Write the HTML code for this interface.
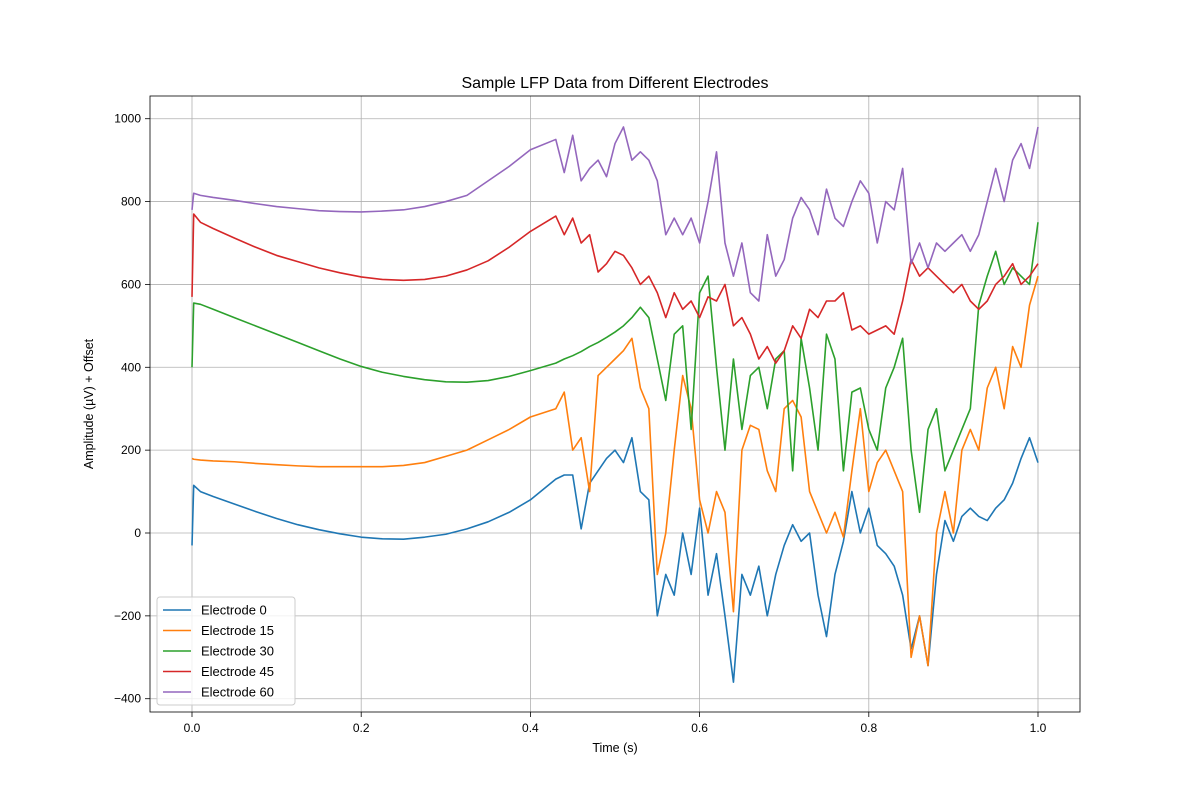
<!DOCTYPE html>
<html><head><meta charset="utf-8"><style>
body{margin:0;background:#fff;}
svg{font-family:"Liberation Sans","DejaVu Sans",sans-serif;}
</style></head><body>
<svg id="chart" width="1200" height="800">
<rect width="1200" height="800" fill="#fff"/>
<text x="615" y="88" text-anchor="middle" font-size="16">Sample LFP Data from Different Electrodes</text>
<text x="615" y="752" text-anchor="middle" font-size="12.5">Time (s)</text>
<text transform="translate(93,404) rotate(-90)" text-anchor="middle" font-size="12.5">Amplitude (µV) + Offset</text>
<g id="grid"></g><g id="series"></g><g id="axes"></g><g id="legend"></g>
</svg>
<script>
const xTicks=[0.0,0.2,0.4,0.6,0.8,1.0];
const xTickLabels=["0.0","0.2","0.4","0.6","0.8","1.0"];
const yTicks=[-400,-200,0,200,400,600,800,1000];
const yTickLabels=["\u2212400","\u2212200","0","200","400","600","800","1000"];
const times=[0,0.002,0.01,0.025,0.05,0.075,0.1,0.125,0.15,0.175,0.2,0.225,0.25,0.275,0.3,0.325,0.35,0.375,0.4,0.43,0.44,0.45,0.46,0.47,0.48,0.49,0.50,0.51,0.52,0.53,0.54,0.55,0.56,0.57,0.58,0.59,0.60,0.61,0.62,0.63,0.64,0.65,0.66,0.67,0.68,0.69,0.70,0.71,0.72,0.73,0.74,0.75,0.76,0.77,0.78,0.79,0.80,0.81,0.82,0.83,0.84,0.85,0.86,0.87,0.88,0.89,0.90,0.91,0.92,0.93,0.94,0.95,0.96,0.97,0.98,0.99,1.0];
const labels=["Electrode 0","Electrode 15","Electrode 30","Electrode 45","Electrode 60"];
const colors=["#1f77b4","#ff7f0e","#2ca02c","#d62728","#9467bd"];
const e0=[-30,115,100,88,70,52,35,20,8,-2,-10,-14,-15,-10,-3,10,27,50,80,130,140,140,10,120,150,180,200,170,230,100,80,-200,-100,-150,0,-100,60,-150,-50,-200,-360,-100,-150,-80,-200,-100,-30,20,-20,0,-150,-250,-100,-20,100,0,60,-30,-50,-80,-150,-280,-200,-320,-100,30,-20,40,60,40,30,60,80,120,180,230,170];
const e15=[180,178,176,174,172,168,165,162,160,160,160,160,163,170,185,200,225,250,280,300,340,200,230,100,380,400,420,440,470,350,300,-100,0,200,380,300,80,0,100,50,-190,200,260,250,150,100,300,320,280,100,50,0,50,-10,150,300,100,170,200,150,100,-300,-200,-320,0,100,0,200,250,200,350,400,300,450,400,550,620];
const e30=[400,555,552,540,520,500,480,460,440,420,402,388,378,370,365,364,368,378,392,410,420,428,438,450,460,472,485,500,520,545,520,420,320,480,500,250,580,620,400,200,420,250,380,400,300,420,440,150,470,350,200,480,420,150,340,350,250,200,350,400,470,200,50,250,300,150,200,250,300,550,620,680,600,640,620,600,750];
const e45=[570,770,750,735,712,690,670,655,640,628,618,612,610,612,620,635,657,690,728,765,720,760,700,720,630,650,680,670,640,600,620,580,520,580,540,560,520,570,560,600,500,520,480,420,450,410,440,500,470,540,520,560,560,580,490,500,480,490,500,480,560,660,620,640,620,600,580,600,560,540,560,600,620,650,600,620,650];
const e60=[780,820,815,810,803,795,788,783,778,776,775,777,780,788,800,815,850,885,925,950,870,960,850,880,900,860,940,980,900,920,900,850,720,760,720,760,700,800,920,700,620,700,580,560,720,620,660,760,810,780,720,830,760,740,800,850,820,700,800,780,880,650,700,640,700,680,700,720,680,720,800,880,800,900,940,880,980];
const seriesData=[e0,e15,e30,e45,e60];
const X=t=>192+t*846, Y=v=>533-v*(580/1400);
const NS="http://www.w3.org/2000/svg";
function mk(tag,attrs,parent){const e=document.createElementNS(NS,tag);for(const k in attrs)e.setAttribute(k,attrs[k]);parent.appendChild(e);return e;}
const grid=document.getElementById('grid'),axes=document.getElementById('axes'),ser=document.getElementById('series'),leg=document.getElementById('legend');
xTicks.forEach((t,i)=>{
 const g=mk('line',{x1:X(t),x2:X(t),y1:96,y2:712,stroke:'#b0b0b0','stroke-width':0.8},grid);
 
 
 mk('line',{x1:X(t),x2:X(t),y1:712,y2:717,stroke:'#000','stroke-width':0.8},axes);
 const tx=mk('text',{x:X(t),y:732,'text-anchor':'middle','font-size':12},axes);tx.textContent=xTickLabels[i];
 
 
});
yTicks.forEach((v,i)=>{
 const g=mk('line',{x1:150,x2:1080,y1:Y(v),y2:Y(v),stroke:'#b0b0b0','stroke-width':0.8},grid);
 
 
 mk('line',{x1:145,x2:150,y1:Y(v),y2:Y(v),stroke:'#000','stroke-width':0.8},axes);
 const tx=mk('text',{x:141,y:Y(v)+4,'text-anchor':'end','font-size':12},axes);tx.textContent=yTickLabels[i];
 
 
});
const frame=mk('rect',{x:150,y:96,width:930,height:616,fill:'none',stroke:'#000','stroke-width':0.8},axes);


seriesData.forEach((d,i)=>{
 const p=mk('polyline',{points:d.map((v,j)=>X(times[j])+','+Y(v)).join(' '),fill:'none',stroke:colors[i],'stroke-width':1.6,'stroke-linejoin':'round'},ser);
 
 
});
const box=mk('rect',{x:157,y:597,width:138,height:108,rx:3,fill:'#fff','fill-opacity':0.8,stroke:'#ccc'},leg);


labels.forEach((l,i)=>{
 const y=610+i*20.5;
 const ln=mk('line',{x1:163,x2:191,y1:y,y2:y,stroke:colors[i],'stroke-width':1.6},leg);
 
 
 const tx=mk('text',{x:201,y:y+4.5,'font-size':13},leg);tx.textContent=l;
 
 
});
</script>
</body></html>
